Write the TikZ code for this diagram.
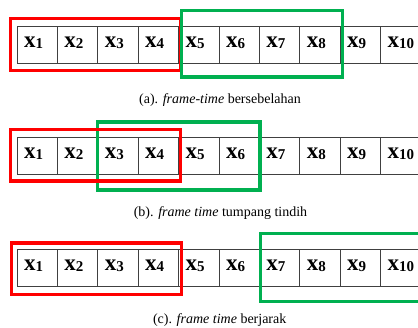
\documentclass[tikz,border=0pt]{standalone}
\usepackage{fontspec}
\setmainfont{Liberation Serif}
\definecolor{frameRed}{RGB}{255,0,0}
\definecolor{frameGreen}{RGB}{0,176,80}
% one sample x_i, bold, with a smaller lowered index
\newcommand{\sample}[1]{{\fontsize{23}{23}\selectfont\textbf{x}}\raisebox{-1.5pt}{\fontsize{15}{15}\selectfont\textbf{#1}}}
\tikzset{
  cell/.style={draw=black!75, line width=0.8pt, minimum height=37pt,
    inner xsep=7pt, inner ysep=0pt, text width=26.4pt, align=left,
    text height=11pt, text depth=6pt},
  redframe/.style={draw=frameRed, line width=3.4pt},
  greenframe/.style={draw=frameGreen, line width=3.4pt},
  caption/.style={font=\fontsize{14}{16}\selectfont, inner sep=0pt}
}
\begin{document}
\begin{tikzpicture}[x=1pt, y=-1pt]
  \useasboundingbox (0,0) rectangle (418,327);

  % (a) adjacent frames
  \foreach \i in {1,...,10}
    \node[cell] (a\i) at ({17+40.4*(\i-0.5)}, 44.7) {\sample{\i}};
  \draw[redframe] (10.5,18.7) rectangle (180.5,70.3);
  \draw[greenframe] (181.7,10.5) rectangle (342.7,77);
  \node[caption] (capa) at (220,100) {(a). \textit{frame-time} bersebelahan};

  % (b) overlapping frames
  \foreach \i in {1,...,10}
    \node[cell] (b\i) at ({17+40.4*(\i-0.5)}, 155.8) {\sample{\i}};
  \draw[greenframe] (97.5,122) rectangle (260,190);
  \draw[redframe] (10.5,129.7) rectangle (180.5,181);
  \node[caption] (capb) at (220.5,213) {(b). \textit{frame time} tumpang tindih};

  % (c) spaced frames
  \foreach \i in {1,...,10}
    \node[cell] (c\i) at ({17+40.4*(\i-0.5)}, 267.9) {\sample{\i}};
  \draw[redframe] (11.3,242.8) rectangle (181.3,294.7);
  \draw[greenframe] (260.3,233.7) rectangle (430,301.3);
  \node[caption] (capc) at (219.7,320) {(c). \textit{frame time} berjarak};
\end{tikzpicture}
\end{document}
